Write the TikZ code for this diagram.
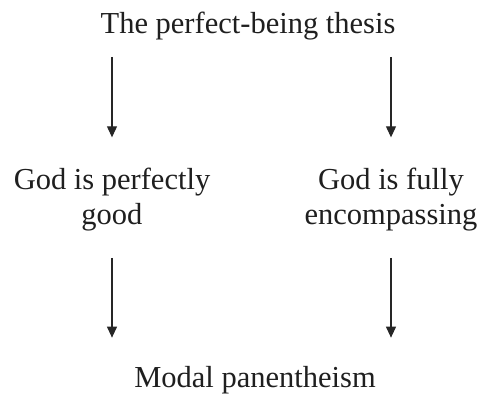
\documentclass[tikz,border=0pt]{standalone}
\usepackage{fontspec}
\setmainfont{Liberation Serif}
\usetikzlibrary{arrows.meta}
\begin{document}
\begin{tikzpicture}[x=1pt,y=1pt,
  lbl/.style={inner sep=0pt, align=center, font=\fontsize{30.5}{35}\selectfont, text=black!88},
  arr/.style={line width=1.1pt, draw=black!85, -{Triangle[width=10pt,length=11pt]}}]
\useasboundingbox (0,0) rectangle (480,-401);
\node[lbl, anchor=base] (top) at (248,-34) {The perfect-being thesis};
\node[lbl, anchor=base] (gpg) at (112,-225) {God is perfectly\\good};
\node[lbl, anchor=base] (gfe) at (391,-225) {God is fully\\encompassing};
\node[lbl, anchor=base] (mp) at (255,-387) {Modal panentheism};
\draw[arr, shorten <=16pt, shorten >=31pt] (top.south -| gpg.north) -- (gpg.north);
\draw[arr, shorten <=16pt, shorten >=31pt] (top.south -| gfe.north) -- (gfe.north);
\draw[arr, shorten <=26pt, shorten >=28pt] (gpg.south) -- (mp.north -| gpg.south);
\draw[arr, shorten <=26pt, shorten >=28pt] (gfe.south) -- (mp.north -| gfe.south);
\end{tikzpicture}
\end{document}
